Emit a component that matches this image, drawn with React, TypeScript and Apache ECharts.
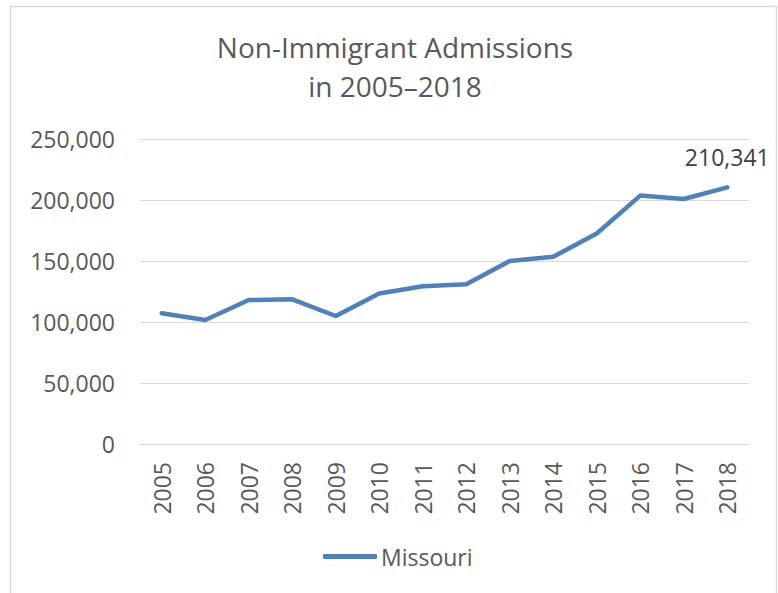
import React, { useEffect, useRef } from "react";
import * as echarts from "echarts";

const years = ["2005","2006","2007","2008","2009","2010","2011","2012","2013","2014","2015","2016","2017","2018"];
const missouri = [107100, 101600, 118000, 118600, 104900, 123300, 129300, 130900, 150000, 153400, 172500, 203600, 200800, 210341];
const yTicks = { min: 0, max: 250000, interval: 50000 };
const titleText = "Non-Immigrant Admissions\nin 2005\u20132018";
const seriesName = "Missouri";

const FONT = "'Open Sans', sans-serif";
const TEXT = "#595959";

export default function App() {
  const ref = useRef<HTMLDivElement>(null);
  useEffect(() => {
    if (!ref.current) return;
    const chart = echarts.init(ref.current, null, { renderer: "svg" });
    const last = missouri.length - 1;
    chart.setOption({
      animation: false,
      backgroundColor: "#ffffff",
      graphic: [
        {
          type: "rect",
          shape: { x: 10.5, y: 6.5, width: 766, height: 620 },
          style: { fill: "none", stroke: "#d9d9d9", lineWidth: 1.5 },
          silent: true,
          z: 0,
        },
      ],
      title: {
        text: titleText,
        left: 390,
        textAlign: "center",
        top: 22,
        textStyle: { fontFamily: FONT, fontWeight: 400, fontSize: 28, color: TEXT, lineHeight: 39 },
      },
      legend: {
        bottom: 20,
        left: 318,
        itemWidth: 54,
        itemHeight: 5,
        itemGap: 4,
        textStyle: { fontFamily: FONT, fontSize: 23, color: TEXT, padding: [0, 0, 0, -1] },
        data: [{ name: seriesName, icon: "roundRect" }],
      },
      grid: { left: 140, right: 29, top: 139, bottom: 149, containLabel: false },
      xAxis: {
        type: "category",
        data: years,
        boundaryGap: true,
        axisLine: { show: true, lineStyle: { color: "#d9d9d9", width: 1 } },
        axisTick: { show: false },
        axisLabel: { rotate: 90, margin: 18, fontFamily: FONT, fontSize: 23, color: TEXT },
      },
      yAxis: {
        type: "value",
        min: yTicks.min,
        max: yTicks.max,
        interval: yTicks.interval,
        axisLine: { show: false },
        axisTick: { show: false },
        splitLine: { lineStyle: { color: "#d9d9d9", width: 1 } },
        axisLabel: {
          margin: 25,
          fontFamily: FONT,
          fontSize: 23,
          color: TEXT,
          formatter: (v: number) => v.toLocaleString("en-US"),
        },
      },
      series: [
        {
          name: seriesName,
          type: "line",
          data: missouri.map((v, i) =>
            i === last
              ? {
                  value: v,
                  label: {
                    show: true,
                    position: "top",
                    distance: 19,
                    fontFamily: FONT,
                    fontSize: 23,
                    color: "#404040",
                    formatter: (p: any) => Number(p.value).toLocaleString("en-US"),
                  },
                }
              : v
          ),
          showSymbol: true,
          symbol: "circle",
          symbolSize: 0,
          lineStyle: { color: "#4F81BD", width: 4.5, cap: "round", join: "round" },
          itemStyle: { color: "#4F81BD" },
        },
      ],
    });
    return () => chart.dispose();
  }, []);
  return <div ref={ref} style={{ position: "fixed", left: 0, top: 0, width: 778, height: 593 }} />;
}
